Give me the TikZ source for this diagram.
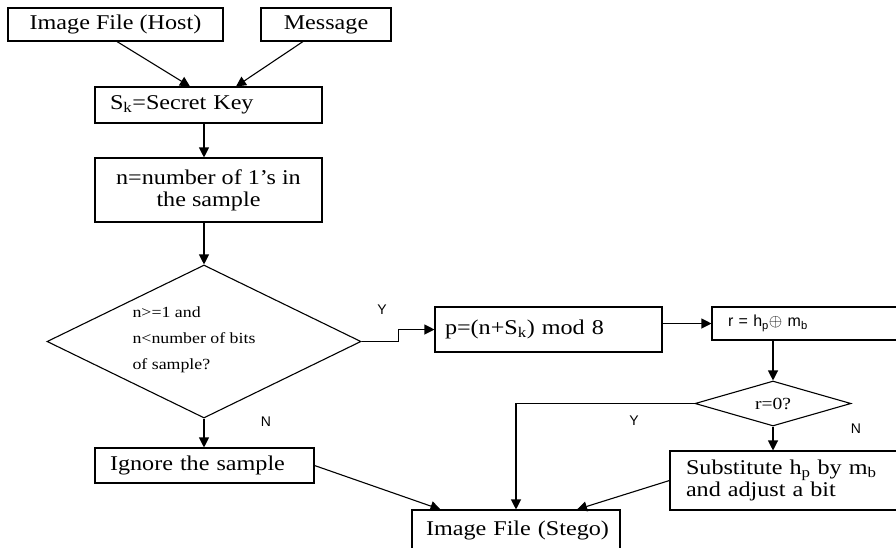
\documentclass[tikz,border=0pt]{standalone}
\usepackage{fontspec}
\setmainfont[FakeStretch=1.15]{Liberation Serif}
\newfontfamily\ynfont{Liberation Sans}
\usetikzlibrary{arrows.meta,positioning,calc,shapes.geometric}

\begin{document}
\begin{tikzpicture}[x=1pt, y=-1pt, line width=1.1pt,
  >={Triangle[length=10pt,width=10pt]},
  box/.style={draw, rectangle, inner sep=0pt, font=\fontsize{21}{22}\selectfont},
  decision/.style={draw, diamond, inner sep=0pt},
  yn/.style={font=\ynfont\fontsize{14}{16}\selectfont}]
  \useasboundingbox (0,0) rectangle (896,547);
  \clip (0,0) rectangle (896,547);

  \node[box, minimum width=215, minimum height=33] (host) at (115.5,24.5) {Image File (Host)};
  \node[box, minimum width=130, minimum height=33] (msg) at (326,24.5) {Message};
  \node[box, text width=197, inner xsep=15, minimum height=36, align=left] (key) at (208.5,105) {S\textsubscript{k}=Secret Key};
  \node[box, minimum width=227, minimum height=64, align=center] (count) at (208.5,190) {n=number of 1’s in\\the sample};
  \node[decision, minimum width=314, minimum height=153] (check) at (204,341.5) {};
  \node[anchor=west, align=left, inner sep=0pt, font=\fontsize{15.5}{26}\selectfont] (checktext) at (132,340) {n>=1 and\\n<number of bits\\of sample?};
  \node[box, text width=189, inner xsep=15, minimum height=35, align=left] (ignore) at (204.5,465.5) {Ignore the sample};
  \node[box, text width=196, inner xsep=6, minimum height=40, align=left] (stego) at (516,530) {\hspace{8pt}Image File (Stego)};
  \node[box, text width=207, inner xsep=10, minimum height=45, align=left] (pos) at (548.5,329.5) {p=(n+S\textsubscript{k}) mod 8};
  \node[box, text width=176, inner xsep=16, minimum height=33, align=left, font=\ynfont\fontsize{16}{18}\selectfont] (xor) at (816,323.5) {r = h\textsubscript{p}$\oplus$ m\textsubscript{b}};
  \node[decision, minimum width=156, minimum height=45, shape aspect=3.4, font=\fontsize{17}{18}\selectfont] (zero) at (773,403.5) {r=0?};
  \node[box, text width=218, inner xsep=16, minimum height=59, align=left] (subst) at (795,480.5) {Substitute h\textsubscript{p} by m\textsubscript{b}\\and adjust a bit};

  \node[yn] (yes1) at (382,310) {Y};
  \node[yn] (no1) at (266,422) {N};
  \node[yn] (yes2) at (634,421) {Y};
  \node[yn] (no2) at (856,429) {N};

  \path[->]
  ($(host.south)+(1.5,0)$) edge ($(key.north)+(-18.5,0)$)
  ($(msg.south)+(-23,0)$) edge ($(key.north)+(27.5,0)$)
  (key.south -| check) edge (count.north -| check)
  (count.south -| check) edge (check.north)
  (check.south) edge (ignore.north -| check)
  (pos.east |- xor.west) edge (xor.west)
  (xor.south -| zero.north) edge (zero.north)
  (zero.south) edge (subst.north -| zero.south)
  (ignore.east) edge ($(stego.north west)+(29,0)$)
  (subst.west) edge ($(stego.north)+(61,0)$);
  \draw[->] (check.east) -- ++(37,0) |- (pos.west);
  \draw[->] (zero.west) -| (stego.north);
\end{tikzpicture}
\end{document}
